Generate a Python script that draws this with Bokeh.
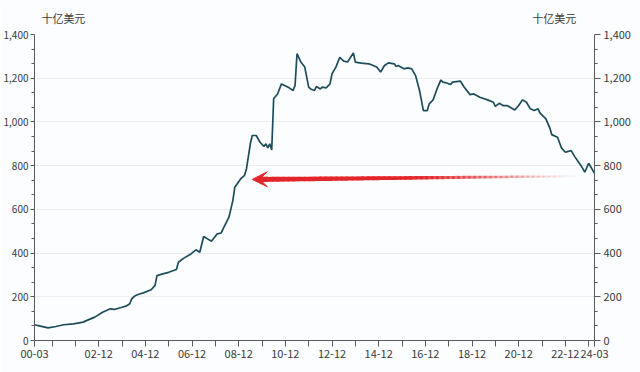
import numpy as np
from bokeh.plotting import figure
from bokeh.layouts import column
from bokeh.models import (LinearAxis, FixedTicker, NumeralTickFormatter,
                          Arrow, VeeHead, Range1d, ColumnDataSource)
from bokeh.core.properties import value
from bokeh.embed import file_html
from bokeh.resources import INLINE

# ---------------- data ----------------
dates = ["2000-03", "2000-06", "2000-10", "2001-02", "2001-06", "2001-11", "2002-02", "2002-04",
         "2002-06", "2002-10", "2003-02", "2003-06", "2003-08", "2003-12", "2004-02", "2004-04",
         "2004-05", "2004-07", "2004-09", "2004-11", "2005-03", "2005-05", "2005-06", "2005-09",
         "2005-12", "2006-04", "2006-05", "2006-08", "2006-11", "2007-02", "2007-04", "2007-06",
         "2007-08", "2007-10", "2008-01", "2008-03", "2008-04", "2008-07", "2008-09", "2008-10",
         "2009-01", "2009-03", "2009-04", "2009-06", "2009-07", "2009-09", "2009-11", "2010-01",
         "2010-02", "2010-03", "2010-04", "2010-05", "2010-06", "2010-08", "2010-10", "2011-02",
         "2011-04", "2011-05", "2011-06", "2011-08", "2011-10", "2011-12", "2012-01", "2012-03",
         "2012-04", "2012-06", "2012-07", "2012-09", "2012-11", "2012-12", "2013-02", "2013-04",
         "2013-06", "2013-08", "2013-11", "2013-12", "2014-03", "2014-07", "2014-11", "2015-01",
         "2015-03", "2015-05", "2015-08", "2015-09", "2015-10", "2016-01", "2016-03", "2016-05",
         "2016-07", "2016-09", "2016-11", "2017-01", "2017-02", "2017-04", "2017-06", "2017-08",
         "2017-09", "2017-11", "2018-01", "2018-02", "2018-06", "2018-08", "2018-11", "2019-01",
         "2019-04", "2019-08", "2019-11", "2019-12", "2020-02", "2020-04", "2020-06", "2020-10",
         "2020-12", "2021-02", "2021-04", "2021-06", "2021-08", "2021-10", "2021-11", "2022-02",
         "2022-04", "2022-05", "2022-08", "2022-10", "2022-12", "2023-03", "2023-05", "2023-08",
         "2023-10", "2023-12", "2024-03"]
holdings = [72, 66, 58, 64, 72, 76, 81, 84,
            92, 107, 129, 145, 142, 152, 157, 168,
            191, 206, 213, 218, 232, 252, 297, 305,
            312, 325, 358, 378, 393, 415, 404, 476,
            465, 454, 488, 492, 511, 564, 640, 701,
            739, 755, 785, 900, 938, 938, 907, 888,
            900, 881, 900, 872, 1106, 1128, 1174, 1156,
            1144, 1167, 1312, 1274, 1251, 1159, 1151, 1144,
            1162, 1151, 1159, 1156, 1174, 1220, 1251, 1296,
            1278, 1274, 1316, 1274, 1269, 1266, 1251, 1228,
            1258, 1270, 1266, 1254, 1258, 1243, 1247, 1243,
            1212, 1144, 1052, 1052, 1083, 1101, 1151, 1192,
            1182, 1178, 1171, 1182, 1187, 1159, 1125, 1128,
            1113, 1101, 1090, 1071, 1085, 1075, 1075, 1055,
            1075, 1101, 1090, 1060, 1052, 1060, 1040, 1014,
            973, 942, 930, 881, 861, 869, 839, 801,
            770, 811, 765]

x_tick_dates = ["2000-03", "2000-12", "2001-12", "2002-12", "2003-12", "2004-12", "2005-12",
                "2006-12", "2007-12", "2008-12", "2009-12", "2010-12", "2011-12", "2012-12",
                "2013-12", "2014-12", "2015-12", "2016-12", "2017-12", "2018-12", "2019-12",
                "2020-12", "2021-12", "2022-12", "2023-12", "2024-03"]
x_tick_labels = ["00-03", "", "", "02-12", "", "04-12", "", "06-12", "", "08-12", "", "10-12",
                 "", "12-12", "", "14-12", "", "16-12", "", "18-12", "", "20-12", "", "22-12",
                 "", "24-03"]
y_ticks = [0, 200, 400, 600, 800, 1000, 1200, 1400]
unit_text = "十亿美元"

# red arrow annotation (data coordinates)
arrow_tip = ("2009-07", 737)
arrow_tail = ("2023-08", 752)


def month_index(s):
    y, m = s.split("-")
    return (int(y) - 2000) * 12 + int(m) - 3


xs = [month_index(d) for d in dates]
x_ticks = [month_index(d) for d in x_tick_dates]

FONT = "Noto Sans CJK SC"
AX = "#5a5a5a"
TXT = "#3a3a3a"
BG = "#fbfdfe"

W = 640
HEAD_H = 26
LEFT, RIGHT, TOP, BOTTOM = 33, 46, 8, 32

p = figure(width=W, height=372 - HEAD_H,
           x_range=Range1d(x_ticks[0], x_ticks[-1]), y_range=Range1d(y_ticks[0], y_ticks[-1]),
           output_backend="svg", toolbar_location=None,
           min_border_left=LEFT, min_border_right=RIGHT, min_border_top=TOP, min_border_bottom=BOTTOM,
           background_fill_color=BG, border_fill_color=BG, outline_line_color=None)

minor_y = []
for a, b in zip(y_ticks[:-1], y_ticks[1:]):
    minor_y += [a + (b - a) / 3, a + 2 * (b - a) / 3]


def style_axis(ax, size="11px", tick=6, standoff=3):
    ax.axis_line_color = AX
    ax.axis_line_width = 1
    ax.major_tick_line_color = AX
    ax.minor_tick_line_color = AX
    ax.major_tick_in = 0
    ax.major_tick_out = tick
    ax.minor_tick_in = 0
    ax.minor_tick_out = 3
    ax.major_label_text_font = FONT
    ax.major_label_text_font_size = size
    ax.major_label_text_color = TXT
    ax.major_label_standoff = standoff


p.xaxis.ticker = FixedTicker(ticks=x_ticks)
p.xaxis.major_label_overrides = {t: l for t, l in zip(x_ticks, x_tick_labels)}
style_axis(p.xaxis[0])
p.xaxis.minor_tick_line_color = None

p.yaxis.ticker = FixedTicker(ticks=y_ticks, minor_ticks=minor_y)
p.yaxis.formatter = NumeralTickFormatter(format="0,0")
style_axis(p.yaxis[0], size="10px", tick=4, standoff=2)

ry = LinearAxis(ticker=FixedTicker(ticks=y_ticks, minor_ticks=minor_y),
                formatter=NumeralTickFormatter(format="0,0"))
style_axis(ry)
p.add_layout(ry, "right")

p.xgrid.grid_line_color = None
p.ygrid.grid_line_color = "#ededed"
p.ygrid.ticker = FixedTicker(ticks=y_ticks)

src = ColumnDataSource(dict(x=xs, y=holdings))
p.line("x", "y", source=src, line_color="#1d4d5a", line_width=1.7)

# arrow: tapering, fading shaft + head
tip_x, tip_y = month_index(arrow_tip[0]), arrow_tip[1]
tail_x, tail_y = month_index(arrow_tail[0]), arrow_tail[1]
n = 60
t = np.linspace(0, 1, n + 1)
sx = tip_x + 5 + (tail_x - tip_x - 5) * t
sy = tip_y + (tail_y - tip_y) * t
widths = 5.0 - 3.2 * t[:-1]
alphas = np.clip(1.0 - np.maximum(0, t[:-1] - 0.45) / 0.55, 0, 1) ** 1.3
p.segment(x0=sx[:-1], y0=sy[:-1], x1=sx[1:], y1=sy[1:], line_color="#e3262b",
          line_width=widths, line_alpha=alphas, line_cap="round")
p.add_layout(Arrow(end=VeeHead(size=15, fill_color="#e3262b", line_color="#e3262b", line_width=1),
                   x_start=tip_x + 8, y_start=tip_y + 0.5, x_end=tip_x, y_end=tip_y,
                   line_color="#e3262b", line_width=5))

# header strip carrying the unit captions, aligned with the main plot's x scale
ppu = (W - LEFT - RIGHT) / (x_ticks[-1] - x_ticks[0])
head = figure(width=W, height=HEAD_H,
              x_range=Range1d(x_ticks[0] - LEFT / ppu, x_ticks[-1] + RIGHT / ppu),
              y_range=Range1d(0, HEAD_H),
              output_backend="svg", toolbar_location=None,
              x_axis_type=None, y_axis_type=None, min_border=0,
              background_fill_color=BG, border_fill_color=BG, outline_line_color=None)
head.xgrid.grid_line_color = None
head.ygrid.grid_line_color = None
head.text(x=[x_ticks[0], x_ticks[-1]], y=[HEAD_H - 17, HEAD_H - 17], text=[unit_text, unit_text],
          text_align="center", text_baseline="middle",
          text_font=value(FONT), text_font_size="11px", text_color=TXT)

layout = column(head, p, spacing=0)
open("out.html", "w").write(file_html(layout, INLINE))
